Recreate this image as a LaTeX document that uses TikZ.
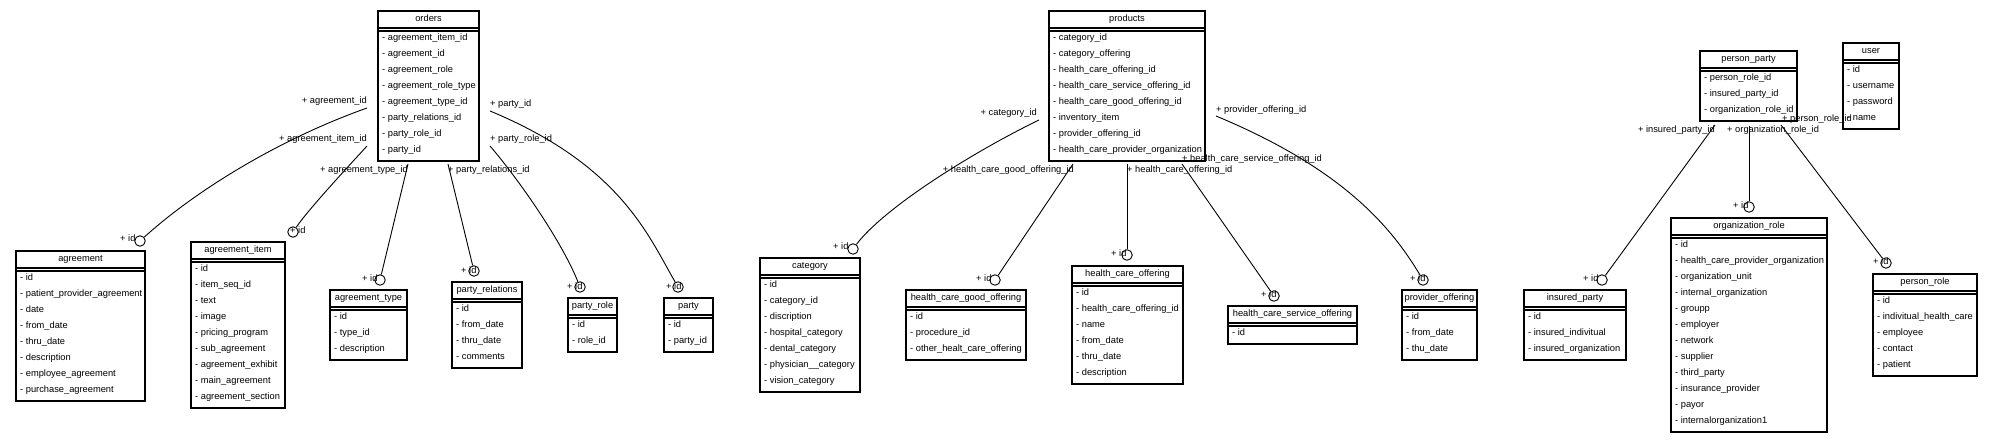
\documentclass[tikz,border=0pt]{standalone}
\usepackage{fontspec}
\setmainfont{Liberation Sans}
\newcommand\diagfont{\fontsize{9.3pt}{11pt}\selectfont}
\tikzset{
  classbox/.style={draw, line width=1.1pt, rectangle, inner sep=0pt, outer sep=0pt, anchor=north west},
  classline/.style={line width=1.1pt},
  titletext/.style={inner sep=0pt, font=\diagfont, text height=6.7pt, text depth=2pt},
  rowtext/.style={anchor=west, inner sep=0pt, font=\diagfont, text height=6.7pt, text depth=2pt},
  lbl/.style={inner sep=0pt, font=\diagfont, text height=6.7pt, text depth=2pt},
  endcircle/.style={circle, draw, line width=0.9pt, minimum size=10.5pt, inner sep=0pt},
  conn/.style={line width=0.9pt},
}
\newcommand\umlbox[7]{%
  \pgfmathsetmacro\boxh{22+16*#5}
  \node[classbox, minimum width=#4pt, minimum height=\boxh pt] (#1) at (#2,#3) {};
  \node[titletext] (#1-t) at ([yshift=-8.5pt]#1.north) {#6};
  \draw[classline] ([yshift=-17pt]#1.north west) -- ([yshift=-17pt]#1.north east);
  \draw[classline] ([yshift=-20pt]#1.north west) -- ([yshift=-20pt]#1.north east);
  \foreach \rowtxt [count=\ri from 0] in {#7} {
    \node[rowtext] (#1-r\ri) at ([xshift=4pt,yshift=-27pt-16pt*\ri]#1.north west) {- \rowtxt};
  }
}
\begin{document}
\begin{tikzpicture}[x=1pt,y=-1pt]
\useasboundingbox (0,0) rectangle (1993,443);

% ---------- class boxes ----------
\umlbox{orders}{378}{11}{101}{8}{orders}{agreement\_item\_id,agreement\_id,agreement\_role,agreement\_role\_type,agreement\_type\_id,party\_relations\_id,party\_role\_id,party\_id}
\umlbox{agreement}{16}{251}{129}{8}{agreement}{id,patient\_provider\_agreement,date,from\_date,thru\_date,description,employee\_agreement,purchase\_agreement}
\umlbox{agritem}{191}{242}{94}{9}{agreement\_item}{id,item\_seq\_id,text,image,pricing\_program,sub\_agreement,agreement\_exhibit,main\_agreement,agreement\_section}
\umlbox{agrtype}{330}{290}{77}{3}{agreement\_type}{id,type\_id,description}
\umlbox{partyrel}{452}{282}{70}{4}{party\_relations}{id,from\_date,thru\_date,comments}
\umlbox{partyrole}{568}{298}{49}{2}{party\_role}{id,role\_id}
\umlbox{party}{664}{298}{49}{2}{party}{id,party\_id}
\umlbox{products}{1049}{11}{156}{8}{products}{category\_id,category\_offering,health\_care\_offering\_id,health\_care\_service\_offering\_id,health\_care\_good\_offering\_id,inventory\_item,provider\_offering\_id,health\_care\_provider\_organization}
\umlbox{category}{760}{258}{100}{7}{category}{id,category\_id,discription,hospital\_category,dental\_category,physician\_\_category,vision\_category}
\umlbox{hcgo}{906}{290}{120}{3}{health\_care\_good\_offering}{id,procedure\_id,other\_healt\_care\_offering}
\umlbox{hco}{1072}{266}{111}{6}{health\_care\_offering}{id,health\_care\_offering\_id,name,from\_date,thru\_date,description}
\umlbox{hcso}{1228}{306}{129}{1}{health\_care\_service\_offering}{id}
\umlbox{provoff}{1402}{290}{75}{3}{provider\_offering}{id,from\_date,thu\_date}
\umlbox{insured}{1524}{290}{102}{3}{insured\_party}{id,insured\_indivitual,insured\_organization}
\umlbox{orgrole}{1671}{218}{156}{12}{organization\_role}{id,health\_care\_provider\_organization,organization\_unit,internal\_organization,groupp,employer,network,supplier,third\_party,insurance\_provider,payor,internalorganization1}
\umlbox{personrole}{1873}{274}{104}{5}{person\_role}{id,indivitual\_health\_care,employee,contact,patient}
\umlbox{personparty}{1700}{51}{97}{3}{person\_party}{person\_role\_id,insured\_party\_id,organization\_role\_id}
\umlbox{user}{1843}{43}{56}{4}{user}{id,username,password,name}

% ---------- end circles ----------
\node[endcircle] (cAgr) at (140,241) {};
\node[endcircle] (cAgrItem) at (293,232) {};
\node[endcircle] (cAgrType) at (380,280) {};
\node[endcircle] (cPartyRel) at (474,271) {};
\node[endcircle] (cPartyRole) at (580,287) {};
\node[endcircle] (cParty) at (678,287) {};
\node[endcircle] (cCat) at (853,249) {};
\node[endcircle] (cHcgo) at (995,280) {};
\node[endcircle] (cHco) at (1127,255) {};
\node[endcircle] (cHcso) at (1274,296) {};
\node[endcircle] (cProv) at (1423,280) {};
\node[endcircle] (cInsured) at (1602,280) {};
\node[endcircle] (cOrg) at (1749,207) {};
\node[endcircle] (cPerson) at (1886,263) {};

% ---------- target labels ----------
\node[lbl, anchor=west] (tAgr) at (120,239) {+ id};
\node[lbl, anchor=west] (tAgrItem) at (290,231) {+ id};
\node[lbl, anchor=west] (tAgrType) at (362,279) {+ id};
\node[lbl, anchor=west] (tPartyRel) at (461,271) {+ id};
\node[lbl, anchor=west] (tPartyRole) at (567,287) {+ id};
\node[lbl, anchor=west] (tParty) at (666,287) {+ id};
\node[lbl, anchor=west] (tCat) at (833,247) {+ id};
\node[lbl, anchor=west] (tHcgo) at (976,279) {+ id};
\node[lbl, anchor=west] (tHco) at (1111,254) {+ id};
\node[lbl, anchor=west] (tHcso) at (1261,295) {+ id};
\node[lbl, anchor=west] (tProv) at (1410,279) {+ id};
\node[lbl, anchor=west] (tInsured) at (1583,279) {+ id};
\node[lbl, anchor=west] (tOrg) at (1733,206) {+ id};
\node[lbl, anchor=west] (tPerson) at (1873,262) {+ id};

% ---------- source labels ----------
\node[lbl, anchor=east] (sAgr) at (367,101) {+ agreement\_id};
\node[lbl, anchor=east] (sAgrItem) at (367,139) {+ agreement\_item\_id};
\node[lbl, anchor=east] (sAgrType) at (408,170) {+ agreement\_type\_id};
\node[lbl, anchor=west] (sPartyRel) at (448,170) {+ party\_relations\_id};
\node[lbl, anchor=west] (sParty) at (490,104) {+ party\_id};
\node[lbl, anchor=west] (sPartyRole) at (490,139) {+ party\_role\_id};
\node[lbl, anchor=east] (sCat) at (1037,113) {+ category\_id};
\node[lbl, anchor=east] (sHcgo) at (1074,170) {+ health\_care\_good\_offering\_id};
\node[lbl, anchor=west] (sHco) at (1127,170) {+ health\_care\_offering\_id};
\node[lbl, anchor=west] (sHcso) at (1182,159) {+ health\_care\_service\_offering\_id};
\node[lbl, anchor=west] (sProv) at (1216,110) {+ provider\_offering\_id};
\node[lbl, anchor=east] (sInsured) at (1715,130) {+ insured\_party\_id};
\node[lbl, anchor=west] (sOrg) at (1727,130) {+ organization\_role\_id};
\node[lbl, anchor=west] (sPerson) at (1782,119) {+ person\_role\_id};

% ---------- connector start points ----------
\coordinate (pAgr) at (367,108);
\coordinate (pAgrItem) at (367,146);
\coordinate (pAgrType) at (408,164);
\coordinate (pPartyRel) at (448,164);
\coordinate (pParty) at (490,111);
\coordinate (pPartyRole) at (490,146);
\coordinate (pCat) at (1039,120);
\coordinate (pHcgo) at (1073,164);
\coordinate (pHco) at (1127,164);
\coordinate (pHcso) at (1182,164);
\coordinate (pProv) at (1216,116);
\coordinate (pInsured) at (1715,125);
\coordinate (pOrg) at (1749,126);
\coordinate (pPerson) at (1781,125);

% ---------- connectors ----------
\draw[conn] (pAgr) .. controls (277,140) and (194,192) .. (cAgr);
\draw[conn] (pAgrItem) .. controls (345,170) and (308,210) .. (cAgrItem);
\draw[conn] (pAgrType) -- (cAgrType);
\draw[conn] (pPartyRel) -- (cPartyRel);
\draw[conn] (pPartyRole) .. controls (520,181) and (562,242) .. (cPartyRole);
\draw[conn] (pParty) .. controls (620,165) and (648,235) .. (cParty);
\draw[conn] (pCat) .. controls (969,154) and (883,209) .. (cCat);
\draw[conn] (pHcgo) -- (cHcgo);
\draw[conn] (pHco) -- (cHco);
\draw[conn] (pHcso) -- (cHcso);
\draw[conn] (pProv) .. controls (1346,170) and (1393,230) .. (cProv);
\draw[conn] (pInsured) -- (cInsured);
\draw[conn] (pOrg) -- (cOrg);
\draw[conn] (pPerson) -- (cPerson);
\end{tikzpicture}
\end{document}
